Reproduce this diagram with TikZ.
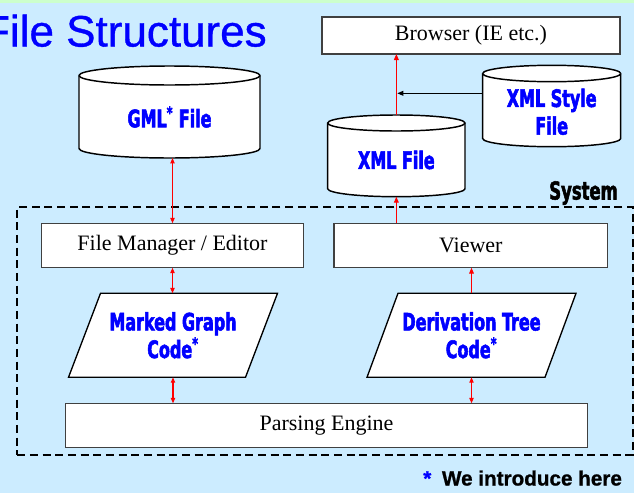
\documentclass[tikz,border=0pt]{standalone}
\usepackage{fontspec}
\setmainfont{Liberation Serif}
\newfontfamily\titlefont[FakeBold=0.8]{Liberation Sans}
\newfontfamily\notefont[FakeBold=1]{Liberation Sans}
\newfontfamily\heavyfont[FakeStretch=0.74,FakeBold=2.2]{DejaVu Sans Condensed}
\usetikzlibrary{arrows.meta}

\definecolor{bg}{RGB}{204,236,255}
\definecolor{topband}{RGB}{204,255,204}
\definecolor{lblue}{RGB}{0,0,255}
\definecolor{boxline}{RGB}{64,64,64}

% cylinder outline: left, right, top, bottom, half height of the caps
\newcommand\cylpath[5]{%
  \pgfmathsetmacro\cyc{(#1+#2)/2}%
  \pgfmathsetmacro\cyk{0.5523*(#2-#1)/2}%
  \pgfmathsetmacro\cyq{0.5523*#5}%
  \pgfmathsetmacro\cyt{#3+#5}%
  \pgfmathsetmacro\cyb{#4-#5}%
  \filldraw[cylline] (#1,\cyt) -- (#1,\cyb)
    .. controls (#1,\cyb+\cyq) and (\cyc-\cyk,#4) .. (\cyc,#4)
    .. controls (\cyc+\cyk,#4) and (#2,\cyb+\cyq) .. (#2,\cyb)
    -- (#2,\cyt)
    .. controls (#2,\cyt-\cyq) and (\cyc+\cyk,#3) .. (\cyc,#3)
    .. controls (\cyc-\cyk,#3) and (#1,\cyt-\cyq) .. cycle;
  \draw[cylline] (#1,\cyt)
    .. controls (#1,\cyt+\cyq) and (\cyc-\cyk,\cyt+#5) .. (\cyc,\cyt+#5)
    .. controls (\cyc+\cyk,\cyt+#5) and (#2,\cyt+\cyq) .. (#2,\cyt);
}

\tikzset{
  area/.style 2 args={inner sep=0pt, outer sep=0pt,
    minimum width=#1*0.75pt, minimum height=#2*0.75pt},
  cylline/.style={draw=black, line width=1.1pt, fill=white},
  plainbox/.style={draw=boxline, line width=1pt, fill=white,
    font=\fontsize{16.5}{19}\selectfont},
  parabox/.style={draw=black, line width=1pt, fill=white},
  heavy/.style={text=lblue, align=center,
    font=\heavyfont\bfseries\fontsize{18}{20.7}\selectfont},
  sysbox/.style={draw=black, line width=1.5pt, dash pattern=on 6pt off 3.5pt},
  redarrow/.style={draw=red, line width=0.8pt,
    -{Triangle[length=4.5pt,width=3.6pt]}},
  redboth/.style={draw=red, line width=0.8pt,
    {Triangle[length=4pt,width=3.2pt]}-{Triangle[length=4pt,width=3.2pt]}},
  blackarrow/.style={draw=black, line width=0.8pt,
    -{Triangle[length=4.5pt,width=3.6pt]}},
}

\begin{document}
\begin{tikzpicture}[x=0.75pt,y=-0.75pt]
\useasboundingbox (0,0) rectangle (634,493);
\clip (0,0) rectangle (634,493);
\fill[bg] (0,0) rectangle (634,493);
\fill[topband] (0,0) rectangle (634,2.5);

% title (runs off the left edge of the slide)
\node[anchor=base east, inner sep=0pt, text=lblue,
  font=\titlefont\fontsize{33}{36}\selectfont] (title) at (267,46.5) {File Structures};

% system boundary
\node[sysbox, area={615.4}{248.3}, anchor=north west] (sys) at (17.3,206.7) {};
\node[anchor=base east, inner sep=0pt,
  font=\heavyfont\bfseries\fontsize{18.5}{20}\selectfont] (systxt) at (618,199.5) {System};

% stored files (cylinders)
\cylpath{79}{260}{66}{158}{9.5}
\node[area={181}{92}, anchor=north west] (gml) at (79,66) {};
\node[heavy] (gmltxt) at (169.5,117) {GML\textsuperscript{*} File};

\cylpath{482.7}{620.7}{65.3}{146.7}{8.2}
\node[area={138}{81.4}, anchor=north west] (style) at (482.7,65.3) {};
\node[heavy] (styletxt) at (551.7,111.8) {XML Style\\File};

\cylpath{327.7}{465}{115}{196.7}{8}
\node[area={137.3}{81.7}, anchor=north west] (xml) at (327.7,115) {};
\node[heavy] (xmltxt) at (396.35,160) {XML File};

% boxes
\node[plainbox, area={298}{37}] (browser) at (471,35.5) {Browser (IE etc.)};
\node[plainbox, area={261.6}{44.4}] (fm) at (172.5,245.5) {File Manager / Editor};
\node[plainbox, area={273.7}{44.4}] (viewer) at (470.85,245.5) {Viewer};
\node[plainbox, area={521.6}{44}] (pe) at (326.5,425.3) {Parsing Engine};

% code files (parallelograms)
\draw[parabox] (68.5,377.3) -- (245.5,377.3) -- (277.5,293.3) -- (100.5,293.3) -- cycle;
\node[heavy, area={177}{84}] (mg) at (173,335.3) {Marked Graph\\Code\textsuperscript{*}};
\draw[parabox] (367,377.3) -- (545,377.3) -- (576,293.3) -- (398,293.3) -- cycle;
\node[heavy, area={178}{84}] (dt) at (471.5,335.3) {Derivation Tree\\Code\textsuperscript{*}};

% connectors
\draw[redboth] (gml.south -| fm) -- (fm.north);
\draw[redboth] (fm.south) -- (fm.south |- mg.north);
\draw[redboth] (mg.south) -- (mg.south |- pe.north);
\draw[redboth] (dt.south) -- (dt.south |- pe.north);
\draw[redarrow] (dt.north) -- (dt.north |- viewer.south);
\draw[redarrow] (xml.south |- viewer.north) -- (xml.south);
\draw[redarrow] (xml.north) -- (xml.north |- browser.south);
\coordinate (jn) at (397.3,93.3);
\draw[blackarrow] (style.west |- jn) -- (jn);

% footnote
\node[anchor=base west, inner sep=0pt,
  font=\notefont\bfseries\fontsize{15.5}{18}\selectfont] (note) at (423,485.5)
  {{\color{lblue}*}\hspace{8pt}We introduce here};
\end{tikzpicture}
\end{document}
